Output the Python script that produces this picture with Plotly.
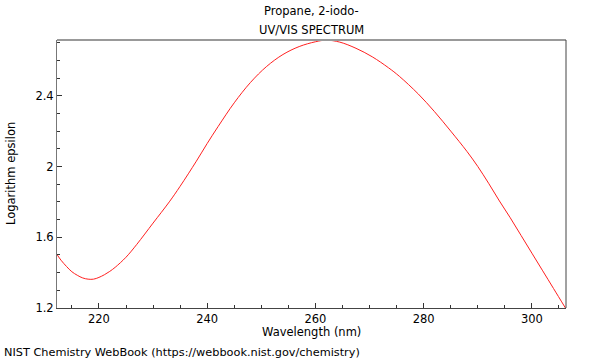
import plotly.graph_objects as go

wavelength = [212.3, 213, 214, 215, 216, 217, 218, 219, 220, 221, 222, 223, 225, 227,
              230, 233, 235, 238, 240, 242, 245, 248, 251, 254, 257, 260, 262, 264.5,
              267.5, 270.5, 273.5, 275.5, 279, 282, 285, 288, 290, 292, 294, 296, 298,
              300, 302, 304, 306.2]
log_eps = [1.50, 1.47, 1.435, 1.405, 1.385, 1.37, 1.363, 1.363, 1.373, 1.388, 1.407, 1.43,
           1.487, 1.56, 1.68, 1.8, 1.888, 2.03, 2.13, 2.225, 2.36, 2.475, 2.566, 2.633,
           2.678, 2.705, 2.714, 2.703, 2.668, 2.62, 2.558, 2.51, 2.41, 2.31, 2.2, 2.085,
           2.0, 1.905, 1.805, 1.71, 1.61, 1.51, 1.41, 1.31, 1.2]

title_lines = ["Propane, 2-iodo-", "UV/VIS SPECTRUM"]
x_title = "Wavelength (nm)"
y_title = "Logarithm epsilon"
credit = "NIST Chemistry WebBook (https://webbook.nist.gov/chemistry)"

FONT = "DejaVu Sans"
FS = 11.5

fig = go.Figure()
fig.add_trace(go.Scatter(x=wavelength, y=log_eps, mode="lines",
                         line=dict(color="#ff2020", width=1, shape="spline", smoothing=1),
                         hoverinfo="skip"))

fig.update_layout(
    width=600, height=360,
    margin=dict(l=57, r=34, t=40, b=52, autoexpand=False),
    paper_bgcolor="white", plot_bgcolor="white",
    showlegend=False,
    font=dict(family=FONT, size=FS, color="#000"),
    xaxis=dict(range=[212.25, 306.3], dtick=20, tick0=200, ticks="inside", ticklen=5,
               tickcolor="#333", showgrid=False, zeroline=False, showline=True,
               linecolor="#444", linewidth=1, automargin=False,
               minor=dict(dtick=5, ticks="inside", ticklen=3, tickcolor="#333")),
    yaxis=dict(range=[1.2, 2.715], dtick=0.4, tick0=1.2, ticks="inside", ticklen=5,
               tickcolor="#333", showgrid=False, zeroline=False, showline=True,
               linecolor="#777", linewidth=1, automargin=False,
               minor=dict(dtick=0.1, ticks="inside", ticklen=3, tickcolor="#333")),
    shapes=[
        dict(type="line", xref="paper", yref="paper", x0=0, x1=1, y0=1, y1=1,
             line=dict(color="#999", width=2)),
        dict(type="line", xref="paper", yref="paper", x0=1, x1=1, y0=0, y1=1,
             line=dict(color="#444", width=1)),
    ],
    annotations=[
        dict(text=title_lines[0], xref="paper", yref="paper", x=0.5, y=1,
             yshift=20, showarrow=False, yanchor="bottom", font=dict(size=FS)),
        dict(text=title_lines[1], xref="paper", yref="paper", x=0.5, y=1,
             yshift=1, showarrow=False, yanchor="bottom", font=dict(size=FS)),
        dict(text=x_title, xref="paper", yref="paper", x=0.5, y=0,
             yshift=-24, showarrow=False, yanchor="middle", font=dict(size=FS)),
        dict(text=y_title, xref="paper", yref="paper", x=0, y=0.5, textangle=-90,
             xshift=-46, showarrow=False, xanchor="center", font=dict(size=FS)),
        dict(text=credit, xref="paper", yref="paper", x=0, y=0, xanchor="left",
             yanchor="middle", xshift=-55, yshift=-44, showarrow=False, font=dict(size=11.3)),
    ],
)

fig.write_html("out.html", config={"displayModeBar": False},
               post_script="document.body.style.margin='0';document.body.style.padding='0';")
